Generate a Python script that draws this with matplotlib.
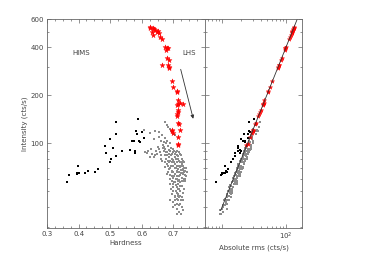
import numpy as np
import matplotlib
matplotlib.use("Agg")
import matplotlib.pyplot as plt
from matplotlib.ticker import FixedLocator, NullFormatter

# HIMS observations (black dots)
hims_hard = [0.362, 0.370, 0.394, 0.400, 0.394, 0.398, 0.420, 0.431, 0.452, 0.460,
             0.485, 0.486, 0.499, 0.520, 0.510, 0.504, 0.499, 0.517, 0.536, 0.564,
             0.569, 0.575, 0.580, 0.578, 0.582, 0.585, 0.592, 0.606, 0.520, 0.588,
             0.593, 0.600]
hims_int = [57, 63, 65, 65, 64, 72, 65, 67, 66, 69,
            96, 87, 107, 114, 93, 80, 76, 83, 89, 91,
            103, 103, 90, 87, 119, 114, 104, 108, 136, 142,
            102, 118]
hims_rms = [8.0, 9.5, 10, 10.5, 9.8, 11, 11, 11.5, 11.8, 12.5,
            18, 16, 20, 22, 17.5, 15, 14, 16, 18, 19,
            21, 22, 19.5, 19, 26, 25, 23, 25, 26, 31,
            23, 27]

# LHS observations (red stars)
lhs_hard = [0.627, 0.637, 0.632, 0.643, 0.648, 0.653, 0.637, 0.658, 0.664, 0.627,
            0.640, 0.650, 0.674, 0.676, 0.683, 0.680, 0.680, 0.685, 0.683, 0.687,
            0.664, 0.685, 0.695, 0.698, 0.711, 0.711, 0.716, 0.721, 0.716, 0.732,
            0.711, 0.716, 0.714, 0.711, 0.711, 0.716, 0.719, 0.695, 0.695, 0.698,
            0.714, 0.716, 0.716, 0.720]
lhs_int = [537, 524, 499, 512, 499, 488, 476, 464, 449, 530,
           520, 505, 402, 383, 393, 393, 340, 331, 308, 296,
           308, 301, 245, 225, 212, 209, 186, 179, 177, 177,
           173, 161, 157, 153, 149, 134, 132, 121, 120, 116,
           109, 99, 97, 121]
lhs_rms = [134, 131, 125, 128, 124, 122, 119, 116, 112, 133,
           130, 126, 100, 96, 98, 98, 85, 83, 77, 74,
           77, 75, 61, 56, 53, 52, 46, 45, 44, 44,
           43, 40, 39, 38, 37, 33.5, 33, 30, 30, 29,
           27, 25, 24, 30]

# remaining observations (grey dots)
other_hard = [0.674, 0.679, 0.683, 0.688, 0.692, 0.695, 0.700, 0.705, 0.606, 0.627,
              0.643, 0.653, 0.640, 0.664, 0.671, 0.674, 0.669, 0.679, 0.685, 0.690,
              0.695, 0.700, 0.706, 0.711, 0.716, 0.721, 0.658, 0.648, 0.643, 0.638,
              0.632, 0.617, 0.611, 0.627, 0.685, 0.690, 0.695, 0.700, 0.679, 0.706,
              0.711, 0.716, 0.721, 0.727, 0.732, 0.674, 0.685, 0.695, 0.700, 0.711,
              0.719, 0.727, 0.737, 0.742, 0.679, 0.690, 0.700, 0.711, 0.721, 0.727,
              0.732, 0.737, 0.695, 0.706, 0.716, 0.721, 0.690, 0.700, 0.711, 0.700,
              0.711, 0.716, 0.721, 0.706, 0.727, 0.711, 0.690, 0.700, 0.716, 0.706,
              0.721, 0.727, 0.711, 0.732, 0.719,
              0.676, 0.680, 0.672, 0.668, 0.684, 0.688, 0.694, 0.698, 0.702, 0.708,
              0.712, 0.718, 0.724, 0.726, 0.730, 0.734, 0.728, 0.722, 0.718, 0.714,
              0.708, 0.704, 0.696, 0.692, 0.686, 0.682, 0.676, 0.672, 0.684, 0.690,
              0.698, 0.704, 0.710, 0.716, 0.724, 0.730, 0.736, 0.740, 0.734, 0.726,
              0.718, 0.712, 0.706, 0.696, 0.688, 0.684, 0.708, 0.702, 0.714, 0.722,
              0.728, 0.696, 0.704, 0.718, 0.724, 0.712, 0.700, 0.654, 0.650, 0.662,
              0.620, 0.630, 0.645, 0.660, 0.665,
              0.703, 0.709, 0.713, 0.717, 0.723, 0.729, 0.733, 0.738, 0.720, 0.726,
              0.731, 0.735, 0.739, 0.715, 0.709, 0.703, 0.697, 0.693, 0.687, 0.681,
              0.677, 0.673, 0.667, 0.670, 0.662, 0.656, 0.708, 0.714, 0.722, 0.729,
              0.719, 0.713, 0.725, 0.705, 0.710, 0.734, 0.700, 0.694, 0.730, 0.717]
other_int = [136, 131, 126, 123, 120, 118, 115, 112, 121, 116,
             120, 118, 107, 112, 95, 92, 90, 88, 91, 89,
             86, 88, 86, 84, 83, 86, 88, 86, 84, 82,
             86, 87, 88, 82, 82, 78, 76, 79, 74, 74,
             76, 72, 71, 74, 69, 71, 69, 67, 66, 67,
             66, 65, 67, 66, 64, 63, 61, 60, 63, 61,
             58, 60, 58, 57, 56, 54, 56, 53, 53, 50,
             49, 48, 50, 47, 46, 45, 44, 43, 44, 41,
             42, 40, 39, 38, 37,
             100, 104, 108, 98, 96, 100, 94, 92, 90, 88,
             90, 88, 84, 80, 78, 76, 72, 76, 78, 80,
             80, 82, 80, 84, 86, 78, 80, 76, 72, 70,
             72, 70, 72, 69, 68, 64, 63, 62, 70, 58,
             59, 62, 64, 62, 60, 66, 55, 57, 52, 57,
             54, 48, 46, 46, 44, 42, 40, 92, 95, 84,
             90, 92, 90, 80, 78,
             76, 70, 66, 62, 65, 68, 60, 58, 72, 76,
             72, 66, 70, 58, 60, 62, 66, 72, 76, 84,
             88, 84, 94, 102, 104, 110, 50, 47, 47, 49,
             41, 36, 36, 44, 39, 52, 56, 52, 44, 52]
other_rms = [38.9, 33.6, 38.2, 30.0, 33.3, 31.1, 33.8, 28.0, 34.6, 29.7,
             36.4, 28.8, 29.7, 29.5, 27.9, 23.0, 25.7, 22.6, 27.6, 21.7,
             23.9, 23.2, 25.3, 21.0, 23.7, 22.1, 26.7, 21.0, 23.3, 21.6,
             25.3, 21.8, 25.1, 21.0, 24.8, 19.0, 21.1, 20.8, 21.8, 18.5,
             21.7, 18.5, 21.5, 18.0, 19.2, 18.7, 20.3, 16.8, 18.9, 17.2,
             20.0, 15.9, 18.6, 17.4, 18.8, 15.8, 17.4, 15.4, 19.1, 14.9,
             16.1, 15.8, 17.1, 14.3, 16.0, 13.8, 17.0, 12.9, 14.7, 13.2,
             14.4, 12.0, 14.3, 12.1, 13.9, 11.0, 12.2, 11.3, 12.9, 10.3,
             12.0, 10.3, 11.8, 9.3, 10.3,
             26.3, 30.6, 27.0, 28.0, 24.6, 30.3, 22.9, 25.6, 23.7, 25.9,
             22.5, 25.1, 21.5, 24.2, 19.0, 21.1, 18.9, 22.4, 19.5, 22.9,
             20.5, 24.8, 19.5, 23.3, 22.6, 22.9, 20.0, 21.7, 18.5, 21.2,
             17.6, 19.4, 18.9, 20.3, 17.0, 18.3, 16.2, 18.8, 17.1, 16.1,
             15.5, 18.2, 16.0, 17.7, 15.4, 20.0, 13.4, 15.8, 13.7, 16.8,
             13.5, 13.7, 11.8, 13.9, 10.7, 11.7, 10.5, 27.1, 23.8, 24.0,
             23.1, 27.9, 22.0, 22.2, 20.5,
             20.5, 18.0, 17.8, 15.6, 17.6, 17.0, 16.2, 14.9, 19.5, 19.5,
             19.5, 16.5, 18.9, 15.7, 15.4, 16.8, 16.5, 19.5, 19.5, 22.7,
             22.6, 22.7, 23.5, 27.6, 26.7, 29.7, 12.5, 12.7, 12.1, 13.2,
             11.1, 9.2, 9.7, 11.9, 10.0, 14.1, 15.1, 13.3, 11.3, 14.1]

# linear rms-flux relation
fit_rms = [9.5, 150]
fit_int = [38, 600]

y_major = [100, 200, 400, 600]
y_minor = [30, 40, 50, 60, 70, 80, 90, 300, 500]

txt = "#444444"
plt.rcParams["font.family"] = "DejaVu Sans"
plt.rcParams["font.size"] = 5
plt.rcParams["axes.edgecolor"] = "#666666"
plt.rcParams["axes.linewidth"] = 0.6

fig = plt.figure(figsize=(3.72, 2.57), dpi=100)
ax1 = fig.add_axes([0.1263, 0.1128, 0.4247, 0.8132])
ax2 = fig.add_axes([0.5511, 0.1128, 0.2608, 0.8132], sharey=ax1)

# left: hardness-intensity
ax1.scatter(other_hard, other_int, s=1.8, marker="s", c="#8c8c8c", linewidths=0)
ax1.scatter(hims_hard, hims_int, s=2, marker="s", c="black", linewidths=0)
ax1.scatter(lhs_hard, lhs_int, s=14, marker="*", c="red", linewidths=0.3, edgecolors="red")
ax1.set_yscale("log")
ax1.set_ylim(29.5, 600)
ax1.set_xlim(0.3, 0.8)
ax1.set_xticks([0.3, 0.4, 0.5, 0.6, 0.7, 0.8])
ax1.set_xticklabels(["0.3", "0.4", "0.5", "0.6", "0.7", ""])
ax1.xaxis.set_minor_locator(FixedLocator(np.arange(0.3, 0.8, 0.025)))
ax1.yaxis.set_major_locator(FixedLocator(y_major))
ax1.yaxis.set_minor_locator(FixedLocator(y_minor))
ax1.set_yticklabels([str(v) for v in y_major])
ax1.yaxis.set_minor_formatter(NullFormatter())
ax1.set_xlabel("Hardness", color=txt, labelpad=2)
ax1.set_ylabel("Intensity (cts/s)", color=txt, labelpad=2)
ax1.text(0.408, 370, "HIMS", color=txt, ha="center", va="center")
ax1.text(0.75, 365, "LHS", color=txt, ha="center", va="center")
ax1.annotate("", xy=(0.765, 137), xytext=(0.721, 302),
             arrowprops=dict(arrowstyle="-|>", color="#333333", lw=0.6,
                             mutation_scale=5))

# right: rms-flux
ax2.scatter(other_rms, other_int, s=1.8, marker="s", c="#8c8c8c", linewidths=0)
ax2.scatter(hims_rms, hims_int, s=2, marker="s", c="black", linewidths=0)
ax2.plot(fit_rms, fit_int, color="#333333", lw=0.6)
ax2.scatter(lhs_rms, lhs_int, s=10, marker="*", c="red", linewidths=0.3, edgecolors="red")
ax2.set_xscale("log")
ax2.set_xlim(5.4, 178)
ax2.xaxis.set_major_locator(FixedLocator([10, 100]))
ax2.set_xticklabels(["", "$10^2$"])
ax2.xaxis.set_minor_locator(FixedLocator([6, 7, 8, 9, 20, 30, 40, 50, 60, 70, 80, 90]))
ax2.xaxis.set_minor_formatter(NullFormatter())
ax2.set_xlabel("Absolute rms (cts/s)", color=txt, labelpad=2)
plt.setp(ax2.get_yticklabels(), visible=False)

for ax in (ax1, ax2):
    ax.tick_params(which="both", direction="in", top=True, right=True,
                   colors="#666666", labelcolor=txt, labelsize=5, pad=2, width=0.5)
    ax.tick_params(which="major", length=3)
    ax.tick_params(which="minor", length=1.5)

fig.savefig("out.png", dpi=100)
